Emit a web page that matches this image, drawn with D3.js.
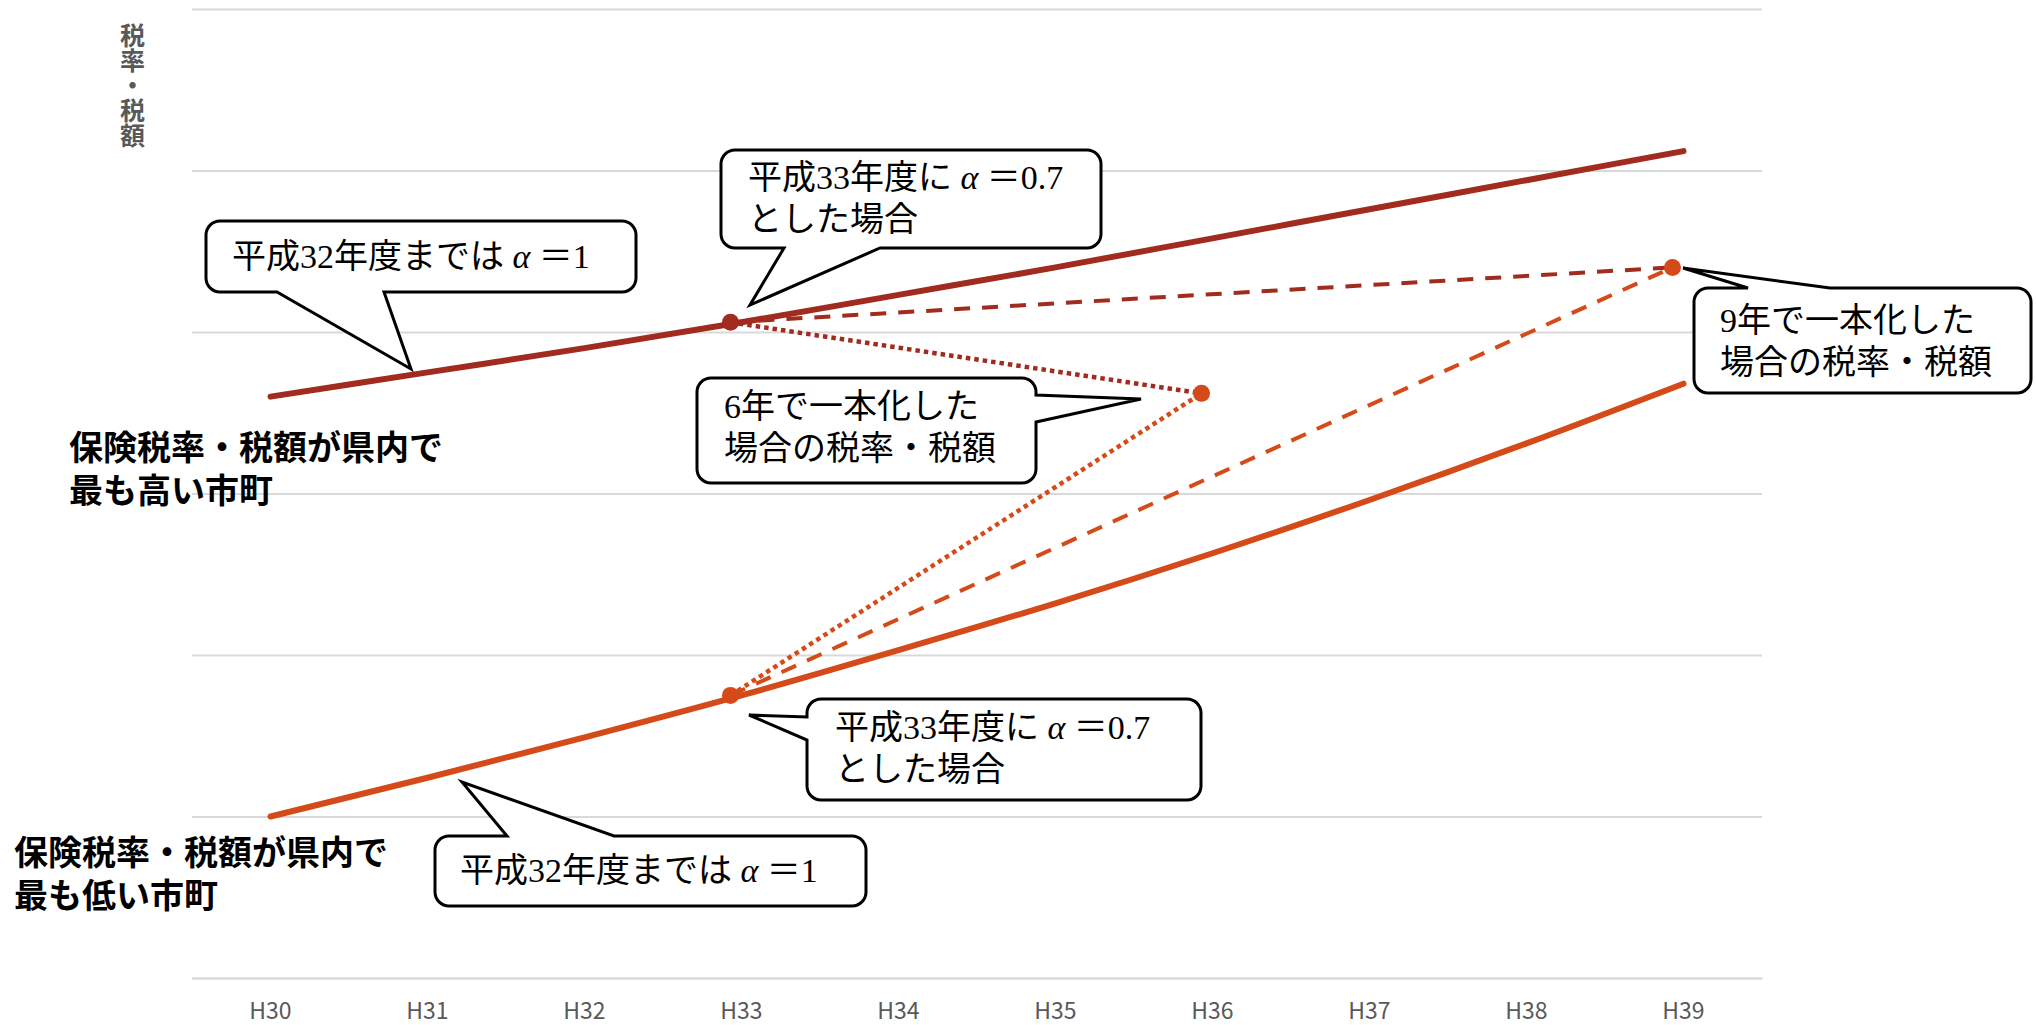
<!DOCTYPE html>
<html>
<head>
<meta charset="utf-8">
<script src="https://cdn.jsdelivr.net/npm/d3@7"></script>
<style>
  body { margin: 0; background: #fff; }
  #chart { position: relative; }
  svg { display: block; }
</style>
</head>
<body>
<div id="chart"></div>
<script>
// fiscal years (Heisei)
const years = ["H30", "H31", "H32", "H33", "H34", "H35", "H36", "H37", "H38", "H39"];
// relative tax rate / amount (no units on the axis)
const highest = [3.60, 3.75, 3.90, 4.06, 4.23, 4.40, 4.58, 4.76, 4.94, 5.12];
const lowest = [1.00, 1.24, 1.49, 1.75, 2.03, 2.32, 2.63, 2.96, 3.31, 3.68];
// unification over 6 years (dotted) and 9 years (dashed)
const unify6Years = ["H33", "H36"];
const unify6High = [4.06, 3.62];
const unify6Low = [1.75, 3.62];
const unify9Years = ["H33", "H39"];
const unify9High = [4.06, 4.40];
const unify9Low = [1.75, 4.40];
const yTicks = [0, 1, 2, 3, 4, 5, 6];

const width = 2036, height = 1025;
const margin = { top: 9, right: 274, bottom: 47, left: 192 };
const darkRed = "#A02B1E", orange = "#D44A18";
const serif = "'Liberation Serif', 'Noto Sans CJK JP', serif";
const sans = "'Noto Sans CJK JP', sans-serif";
// latin font first keeps the line box compact; the kanji still come from Noto CJK
const labelFont = "'Liberation Sans', 'Noto Sans CJK JP', sans-serif";

const svg = d3.select("#chart").append("svg")
    .attr("width", width).attr("height", height);

const x = d3.scaleBand()
    .domain(years)
    .range([margin.left, width - margin.right]);
const cx = d => x(d) + x.bandwidth() / 2;

const y = d3.scaleLinear()
    .domain([0, 6])
    .range([height - margin.bottom, margin.top]);

// horizontal gridlines
svg.append("g")
    .attr("transform", `translate(${margin.left},0)`)
    .call(d3.axisLeft(y).tickValues(yTicks).tickFormat("")
        .tickSize(-(width - margin.left - margin.right)))
    .call(g => g.select(".domain").remove())
    .call(g => g.selectAll(".tick line").attr("stroke", "#d9d9d9").attr("stroke-width", 2));

// x axis
svg.append("g")
    .attr("transform", `translate(0,${height - margin.bottom})`)
    .call(d3.axisBottom(x).tickSize(0).tickSizeOuter(0).tickPadding(25))
    .call(g => g.select(".domain").attr("stroke", "#d9d9d9").attr("stroke-width", 2))
    .call(g => g.selectAll(".tick text")
        .attr("fill", "#595959")
        .style("font-family", sans)
        .style("font-size", "23px"));

// y axis title, vertical
d3.select("#chart").append("div")
    .style("position", "absolute")
    .style("left", "119.5px")
    .style("top", "23px")
    .style("writing-mode", "vertical-rl")
    .style("line-height", "25px")
    .style("font-family", sans)
    .style("font-size", "25px")
    .style("font-weight", "bold")
    .style("color", "#595959")
    .text("税率・税額");

// main solid lines
const line = d3.line()
    .x((d, i) => cx(years[i]))
    .y(d => y(d))
    .curve(d3.curveMonotoneX);

svg.append("path")
    .attr("d", line(highest))
    .attr("fill", "none").attr("stroke", darkRed)
    .attr("stroke-width", 6).attr("stroke-linecap", "round");

svg.append("path")
    .attr("d", line(lowest))
    .attr("fill", "none").attr("stroke", orange)
    .attr("stroke-width", 6).attr("stroke-linecap", "round");

// unification scenarios, drawn as a slightly shifted overlay like the original
const overlay = svg.append("g").attr("transform", "translate(-11,0)");

const seg = (yrs, vals) => d3.line()
    .x((d, i) => cx(yrs[i]))
    .y(d => y(d))(vals);

const scenarios = [
    { yrs: unify9Years, vals: unify9High, color: darkRed, dash: "16,12", w: 4 },
    { yrs: unify9Years, vals: unify9Low, color: orange, dash: "16,12", w: 4 },
    { yrs: unify6Years, vals: unify6High, color: darkRed, dash: "4.5,4", w: 4.5 },
    { yrs: unify6Years, vals: unify6Low, color: orange, dash: "4.5,4", w: 4.5 }
];

overlay.selectAll("path.scenario")
    .data(scenarios)
    .enter().append("path")
    .attr("class", "scenario")
    .attr("d", d => seg(d.yrs, d.vals))
    .attr("fill", "none")
    .attr("stroke", d => d.color)
    .attr("stroke-width", d => d.w)
    .attr("stroke-dasharray", d => d.dash);

const dots = [
    { year: unify6Years[0], value: unify6High[0], color: darkRed },
    { year: unify6Years[0], value: unify6Low[0], color: orange },
    { year: unify6Years[1], value: unify6High[1], color: orange },
    { year: unify9Years[1], value: unify9High[1], color: orange }
];

overlay.selectAll("circle")
    .data(dots)
    .enter().append("circle")
    .attr("cx", d => cx(d.year))
    .attr("cy", d => y(d.value))
    .attr("r", 8.5)
    .attr("fill", d => d.color);

// speech-bubble callouts
const callouts = [
    { box: [206, 221, 636, 292], side: "bottom", base: [277, 384], tip: [411, 369],
      lines: ["平成32年度までは α ＝1"], tx: 232, ty: 256 },
    { box: [721, 150, 1101, 248], side: "bottom", base: [784, 880], tip: [750, 305],
      lines: ["平成33年度に α ＝0.7", "とした場合"], tx: 748, ty: 177 },
    { box: [697, 378, 1036, 483], side: "right", base: [395, 422], tip: [1141, 399],
      lines: ["6年で一本化した", "場合の税率・税額"], tx: 724, ty: 406 },
    { box: [1694, 288, 2031, 393], side: "top", base: [1748, 1830], tip: [1683, 268],
      lines: ["9年で一本化した", "場合の税率・税額"], tx: 1720, ty: 320 },
    { box: [807, 699, 1201, 800], side: "left", base: [717, 740], tip: [749, 715],
      lines: ["平成33年度に α ＝0.7", "とした場合"], tx: 835, ty: 727 },
    { box: [435, 836, 866, 906], side: "top", base: [507, 614], tip: [462, 782],
      lines: ["平成32年度までは α ＝1"], tx: 460, ty: 870 }
];

function bubble(c) {
    const [x0, y0, x1, y1] = c.box, r = 14;
    const [a, b] = c.base, [tx, ty] = c.tip;
    const p = d3.path();
    p.moveTo(x0 + r, y0);
    if (c.side === "top") { p.lineTo(a, y0); p.lineTo(tx, ty); p.lineTo(b, y0); }
    p.lineTo(x1 - r, y0);
    p.arcTo(x1, y0, x1, y0 + r, r);
    if (c.side === "right") { p.lineTo(x1, a); p.lineTo(tx, ty); p.lineTo(x1, b); }
    p.lineTo(x1, y1 - r);
    p.arcTo(x1, y1, x1 - r, y1, r);
    if (c.side === "bottom") { p.lineTo(b, y1); p.lineTo(tx, ty); p.lineTo(a, y1); }
    p.lineTo(x0 + r, y1);
    p.arcTo(x0, y1, x0, y1 - r, r);
    if (c.side === "left") { p.lineTo(x0, b); p.lineTo(tx, ty); p.lineTo(x0, a); }
    p.lineTo(x0, y0 + r);
    p.arcTo(x0, y0, x0 + r, y0, r);
    p.closePath();
    return p.toString();
}

const bubbles = svg.append("g").selectAll("g")
    .data(callouts)
    .enter().append("g");

bubbles.append("path")
    .attr("d", bubble)
    .attr("fill", "#fff")
    .attr("stroke", "#000")
    .attr("stroke-width", 3);

bubbles.each(function(c) {
    const t = d3.select(this).append("text")
        .style("font-family", serif)
        .style("font-size", "34px")
        .attr("fill", "#000");
    c.lines.forEach((ln, i) => {
        const parts = ln.split("α");
        t.append("tspan")
            .attr("x", c.tx)
            .attr("y", c.ty + i * 42)
            .attr("dominant-baseline", "central")
            .text(parts[0]);
        if (parts.length > 1) {
            t.append("tspan").attr("dominant-baseline", "central")
                .style("font-style", "italic").text("α");
            t.append("tspan").attr("dominant-baseline", "central").text(parts[1]);
        }
    });
});

// side labels
const labels = [
    { lines: ["保険税率・税額が県内で", "最も高い市町"], x: 69, y: 448 },
    { lines: ["保険税率・税額が県内で", "最も低い市町"], x: 14, y: 853 }
];

labels.forEach(l => {
    svg.append("text")
        .style("font-family", labelFont)
        .style("font-size", "34px")
        .style("font-weight", "bold")
        .attr("fill", "#000")
        .selectAll("tspan")
        .data(l.lines)
        .enter().append("tspan")
        .attr("x", l.x)
        .attr("y", (d, i) => l.y + i * 43)
        .attr("dominant-baseline", "central")
        .text(d => d);
});
</script>
</body>
</html>
